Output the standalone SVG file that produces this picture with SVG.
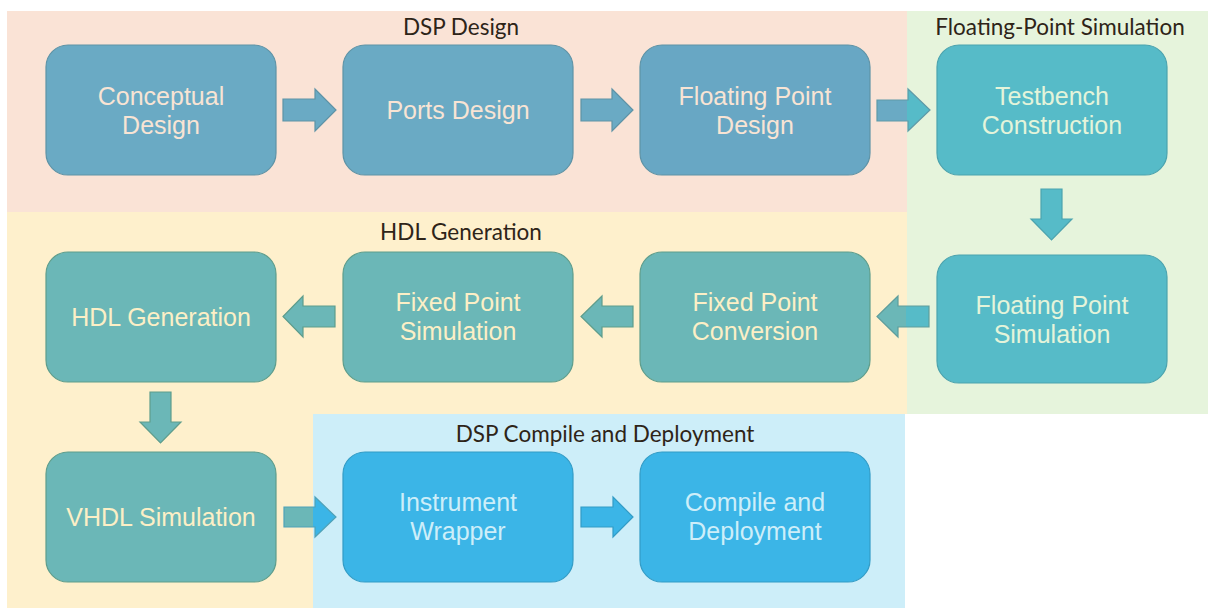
<svg xmlns="http://www.w3.org/2000/svg" width="1208" height="608" viewBox="0 0 1208 608">
<style>
.title{font-family:"Lato","Open Sans",sans-serif;font-size:22.5px;fill:#2E2418;text-anchor:middle}
.lbl{font-family:"Liberation Sans",Arial,sans-serif;font-size:25px;text-anchor:middle}
.n-blue{fill:#6AAAC4;stroke:#5E93A6;stroke-width:1.2}
.n-cyan{fill:#56BBC8;stroke:#4BA3AE;stroke-width:1.2}
.n-teal{fill:#6BB7B7;stroke:#5E9D8C;stroke-width:1.2}
.n-sky{fill:#3BB5E7;stroke:#339CC6;stroke-width:1.2}
.t-blue{fill:#F8E4D4}
.t-cyan{fill:#E4F4DA}
.t-teal{fill:#FCEFC6}
.t-sky{fill:#CDEEF9}
</style>
<defs>
<linearGradient id="gSplit1" gradientUnits="userSpaceOnUse" x1="877" y1="0" x2="930" y2="0">
<stop offset="0" stop-color="#6AAAC4"/><stop offset="0.566" stop-color="#6AAAC4"/><stop offset="0.566" stop-color="#56BBC8"/><stop offset="1" stop-color="#56BBC8"/>
</linearGradient>
<linearGradient id="gSplit2" gradientUnits="userSpaceOnUse" x1="877" y1="0" x2="930" y2="0">
<stop offset="0" stop-color="#6BB7B7"/><stop offset="0.547" stop-color="#6BB7B7"/><stop offset="0.547" stop-color="#56BBC8"/><stop offset="1" stop-color="#56BBC8"/>
</linearGradient>
<linearGradient id="gSplit3" gradientUnits="userSpaceOnUse" x1="284" y1="0" x2="336" y2="0">
<stop offset="0" stop-color="#6BB7B7"/><stop offset="0.558" stop-color="#6BB7B7"/><stop offset="0.558" stop-color="#3BB5E7"/><stop offset="1" stop-color="#3BB5E7"/>
</linearGradient>
</defs>
<rect width="1208" height="608" fill="#FFFFFF"/>
<g id="regions">
<rect id="region-dsp-design" x="7" y="11" width="900" height="201" fill="#FAE3D6"/>
<rect id="region-fp-sim" x="907" y="11" width="301" height="403" fill="#E6F4DC"/>
<path id="region-hdl" d="M7 212H907V414H313V608H7Z" fill="#FEF0CC"/>
<rect id="region-deploy" x="313" y="414" width="592" height="194" fill="#CDEEF9"/>
<text class="title" x="461" y="35">DSP Design</text>
<text class="title" x="1060" y="35">Floating-Point Simulation</text>
<text class="title" x="461" y="240">HDL Generation</text>
<text class="title" x="605" y="442">DSP Compile and Deployment</text>
</g>
<g id="connectors" stroke-width="1.2" stroke-linejoin="miter">
<path d="M283 99H315V89L336 110L315 131V121H283Z" fill="#6AAAC4" stroke="#5E93A6"/>
<path d="M581 99H612V89L633 110L612 131V121H581Z" fill="#6AAAC4" stroke="#5E93A6"/>
<path d="M877 100H908V89L930 110L908 131V121H877Z" fill="url(#gSplit1)" stroke="#5E9AA8"/>
<path d="M1041 189H1062V219H1072L1051.5 240L1031 219H1041Z" fill="#56BBC8" stroke="#4BA3AE"/>
<path d="M929 306V327H898V337L877 316.5L898 296V306Z" fill="url(#gSplit2)" stroke="#5E9D9C"/>
<path d="M633 306V327H602V337L581 316.5L602 296V306Z" fill="#6BB7B7" stroke="#5E9D8C"/>
<path d="M335 306V327H303V337L283 316.5L303 296V306Z" fill="#6BB7B7" stroke="#5E9D8C"/>
<path d="M150 392H171V422H181L160.5 443L140 422H150Z" fill="#6BB7B7" stroke="#5E9D8C"/>
<path d="M284 507H315V497L336 517L315 537V527H284Z" fill="url(#gSplit3)" stroke="#4FA2B8"/>
<path d="M581 507H613V497L633 517L613 537V527H581Z" fill="#3BB5E7" stroke="#339CC6"/>
</g>
<g id="node-conceptual-design">
<rect class="n-blue" x="46" y="45" width="230" height="130" rx="22"/>
<text class="lbl t-blue" x="161" y="105">Conceptual</text>
<text class="lbl t-blue" x="161" y="134">Design</text>
</g>
<g id="node-ports-design">
<rect class="n-blue" x="343" y="45" width="230" height="130" rx="22"/>
<text class="lbl t-blue" x="458" y="119">Ports Design</text>
</g>
<g id="node-floating-point-design">
<rect class="n-blue" x="640" y="45" width="230" height="130" rx="22" style="fill:#68A7C4"/>
<text class="lbl t-blue" x="755" y="105">Floating Point</text>
<text class="lbl t-blue" x="755" y="134">Design</text>
</g>
<g id="node-testbench-construction">
<rect class="n-cyan" x="937" y="45" width="230" height="130" rx="22"/>
<text class="lbl t-cyan" x="1052" y="105">Testbench</text>
<text class="lbl t-cyan" x="1052" y="134">Construction</text>
</g>
<g id="node-floating-point-simulation">
<rect class="n-cyan" x="937" y="255" width="230" height="128" rx="22"/>
<text class="lbl t-cyan" x="1052" y="314">Floating Point</text>
<text class="lbl t-cyan" x="1052" y="343">Simulation</text>
</g>
<g id="node-fixed-point-conversion">
<rect class="n-teal" x="640" y="252" width="230" height="130" rx="22"/>
<text class="lbl t-teal" x="755" y="311">Fixed Point</text>
<text class="lbl t-teal" x="755" y="340">Conversion</text>
</g>
<g id="node-fixed-point-simulation">
<rect class="n-teal" x="343" y="252" width="230" height="130" rx="22"/>
<text class="lbl t-teal" x="458" y="311">Fixed Point</text>
<text class="lbl t-teal" x="458" y="340">Simulation</text>
</g>
<g id="node-hdl-generation">
<rect class="n-teal" x="46" y="252" width="230" height="130" rx="22"/>
<text class="lbl t-teal" x="161" y="326">HDL Generation</text>
</g>
<g id="node-vhdl-simulation">
<rect class="n-teal" x="46" y="452" width="230" height="130" rx="22"/>
<text class="lbl t-teal" x="161" y="526">VHDL Simulation</text>
</g>
<g id="node-instrument-wrapper">
<rect class="n-sky" x="343" y="452" width="230" height="130" rx="22"/>
<text class="lbl t-sky" x="458" y="511">Instrument</text>
<text class="lbl t-sky" x="458" y="540">Wrapper</text>
</g>
<g id="node-compile-and-deployment">
<rect class="n-sky" x="640" y="452" width="230" height="130" rx="22"/>
<text class="lbl t-sky" x="755" y="511">Compile and</text>
<text class="lbl t-sky" x="755" y="540">Deployment</text>
</g>
</svg>
